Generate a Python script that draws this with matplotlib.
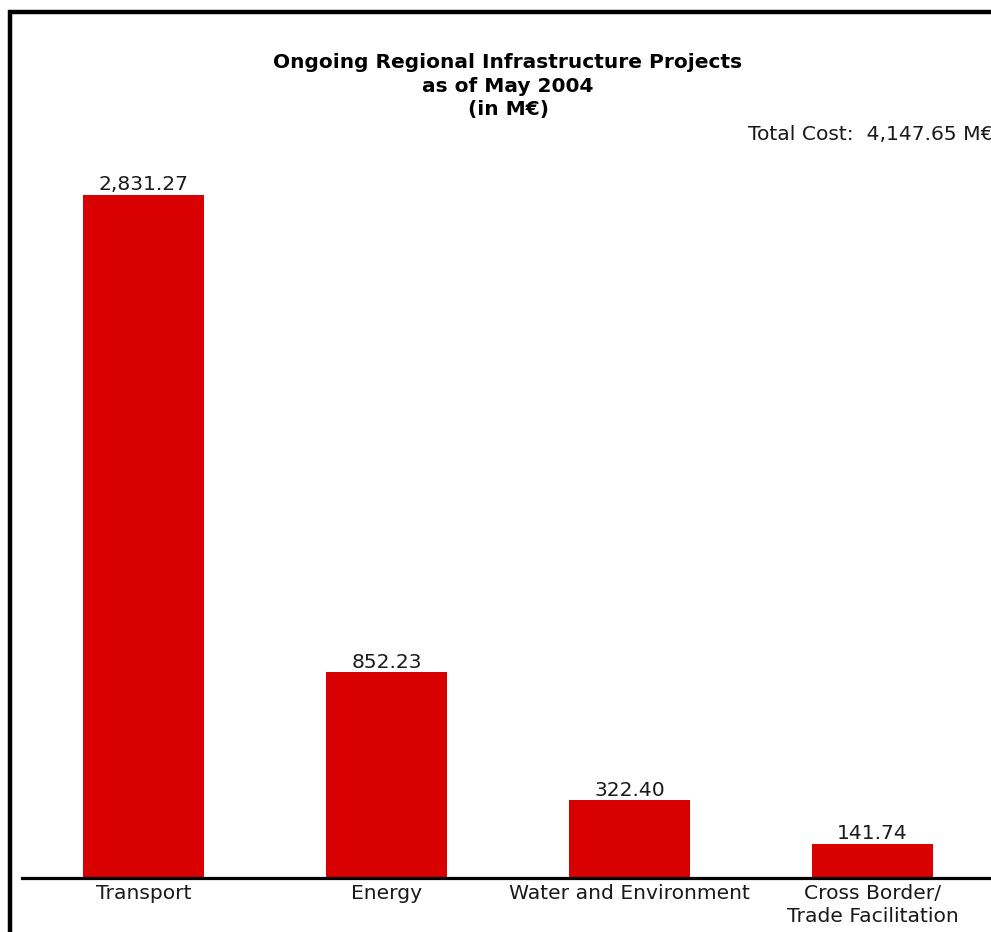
import matplotlib
matplotlib.use("Agg")
import matplotlib.pyplot as plt
from matplotlib.patches import Rectangle

categories = ["Transport", "Energy", "Water and Environment", "Cross Border/\nTrade Facilitation"]
values = [2831.27, 852.23, 322.40, 141.74]
value_labels = ["2,831.27", "852.23", "322.40", "141.74"]
title_lines = "Ongoing Regional Infrastructure Projects\nas of May 2004\n(in M€)"
total_text = "Total Cost:  4,147.65 M€"

W, H = 991, 932
fig = plt.figure(figsize=(W / 100, H / 100), dpi=100)
plt.rcParams['font.family'] = ['DejaVu Sans']
FS = 14.6

# outer frame
fig.patches.append(Rectangle((10 / W, -0.1), 1.2, (H - 12) / H + 0.1, transform=fig.transFigure,
                             fill=False, edgecolor='black', linewidth=3.2, zorder=0))

ax = fig.add_axes([22 / W, (H - 878) / H, (994 - 22) / W, (878 - 150) / H])
x = list(range(len(categories)))
ax.bar(x, values, width=0.5, color='#D80000')
ax.set_xlim(-0.5, 3.5)
ax.set_ylim(0, (878 - 150) / 0.2412)
for s in ['top', 'right', 'left']:
    ax.spines[s].set_visible(False)
ax.spines['bottom'].set_linewidth(2.3)
ax.spines['bottom'].set_color('black')
ax.set_yticks([])
ax.set_xticks(x)
ax.set_xticklabels(categories, fontsize=FS, color='#1a1a1a', linespacing=1.28)
ax.tick_params(axis='x', length=0, pad=4.5)
ax.patch.set_alpha(0)

for xi, v, lab in zip(x, values, value_labels):
    ax.annotate(lab, (xi, v), xytext=(0, 0.5), textcoords='offset points',
                ha='center', va='bottom', fontsize=FS, color='#1a1a1a')

fig.text(508 / W, 1 - 53 / H, title_lines, ha='center', va='top', fontsize=14.5,
         fontweight='bold', linespacing=1.31)
fig.text(748 / W, 1 - 134 / H, total_text, ha='left', va='center', fontsize=FS, color='#1a1a1a')

fig.savefig("out.png", dpi=100)
